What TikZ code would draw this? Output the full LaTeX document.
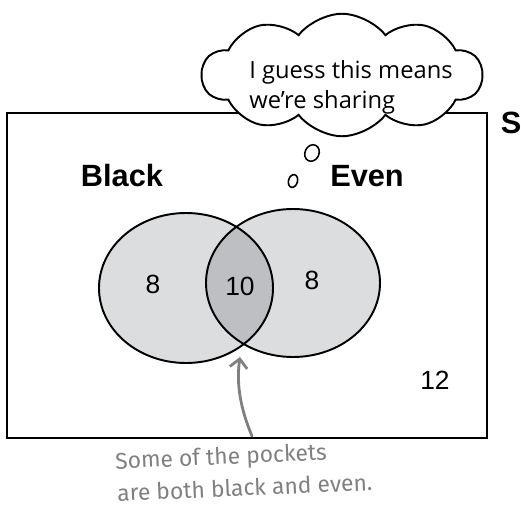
\documentclass[tikz,border=0pt]{standalone}
\usepackage{fontspec}
\setmainfont{Liberation Sans}
\newfontfamily\thinkfont{Open Sans}
\newfontfamily\notefont{Fira Sans}
\usepackage{tikz}
\usetikzlibrary{arrows.meta,shapes.symbols}
\definecolor{setfill}{RGB}{220,221,223}
\definecolor{bothfill}{RGB}{190,191,194}
\definecolor{notegray}{RGB}{128,128,128}
\tikzset{
  setlab/.style={font=\fontsize{17.5}{19}\selectfont\bfseries, inner sep=0pt},
  count/.style={font=\fontsize{15}{17}\selectfont, inner sep=0pt},
  ring/.style={draw=black, line width=1.1pt},
  thought/.style={cloud, cloud puffs=10, cloud puff arc=105, aspect=2.4, draw=black,
    fill=white, line width=1.1pt, minimum width=5.6cm, minimum height=2.45cm, inner sep=0pt},
  puff/.style={draw=black, line width=0.9pt},
  thinktext/.style={font=\thinkfont\fontsize{13.5}{17}\selectfont, align=left, inner sep=0pt},
  notetext/.style={font=\notefont\fontsize{13}{15}\selectfont, text=notegray, inner sep=0pt,
    rotate=2.5, anchor=west},
}

\begin{document}
\begin{tikzpicture}[x=0.02cm, y=-0.02cm]
  \useasboundingbox (0,0) rectangle (521,507);
  % --- sample space ---
  \draw[line width=1.4pt] (7,113) rectangle (487,438);
  \node[setlab] (spacelab) at (511,123) {S};

  % --- the two sets ---
  \coordinate (blackc) at (186,288);
  \coordinate (evenc) at (293,283);
  \fill[setfill] (blackc) ellipse [x radius=87, y radius=75];
  \fill[setfill] (evenc) ellipse [x radius=87, y radius=74];
  \begin{scope}
    \clip (blackc) ellipse [x radius=87, y radius=75];
    \fill[bothfill] (evenc) ellipse [x radius=87, y radius=74];
  \end{scope}
  \draw[ring] (blackc) ellipse [x radius=87, y radius=75];
  \draw[ring] (evenc) ellipse [x radius=87, y radius=74];

  \node[setlab] (blacklab) at (122,176) {Black};
  \node[setlab] (evenlab) at (367,176) {Even};

  % counts
  \node[count] (onlyblack) at (153,284) {8};
  \node[count] (both) at (240,286) {10};
  \node[count] (onlyeven) at (312,280) {8};
  \node[count] (neither) at (435,380) {12};

  % --- thought cloud ---
  \node[thought] (bubble) at (342,75) {};
  \node[thinktext] (bubbletext) at (351,87) {I guess this means\\we’re sharing};
  \draw[puff, rotate around={-25:(312,153)}] (312,153) ellipse [x radius=7, y radius=8.5];
  \draw[puff, rotate around={-15:(293,181)}] (293,181) ellipse [x radius=4.5, y radius=6.5];

  % --- annotation ---
  \coordinate (notefoot) at (252,436);
  \coordinate (arrowtip) at (240,357);
  \draw[-{Straight Barb[length=5pt,width=10pt]}, notegray, line width=1.6pt, line cap=round]
    (notefoot) .. controls (241,410) and (236,385) .. (arrowtip);
  \node[notetext] (noteA) at (115,463) {Some of the pockets};
  \node[notetext] (noteB) at (117,493) {are both black and even.};
\end{tikzpicture}
\end{document}
